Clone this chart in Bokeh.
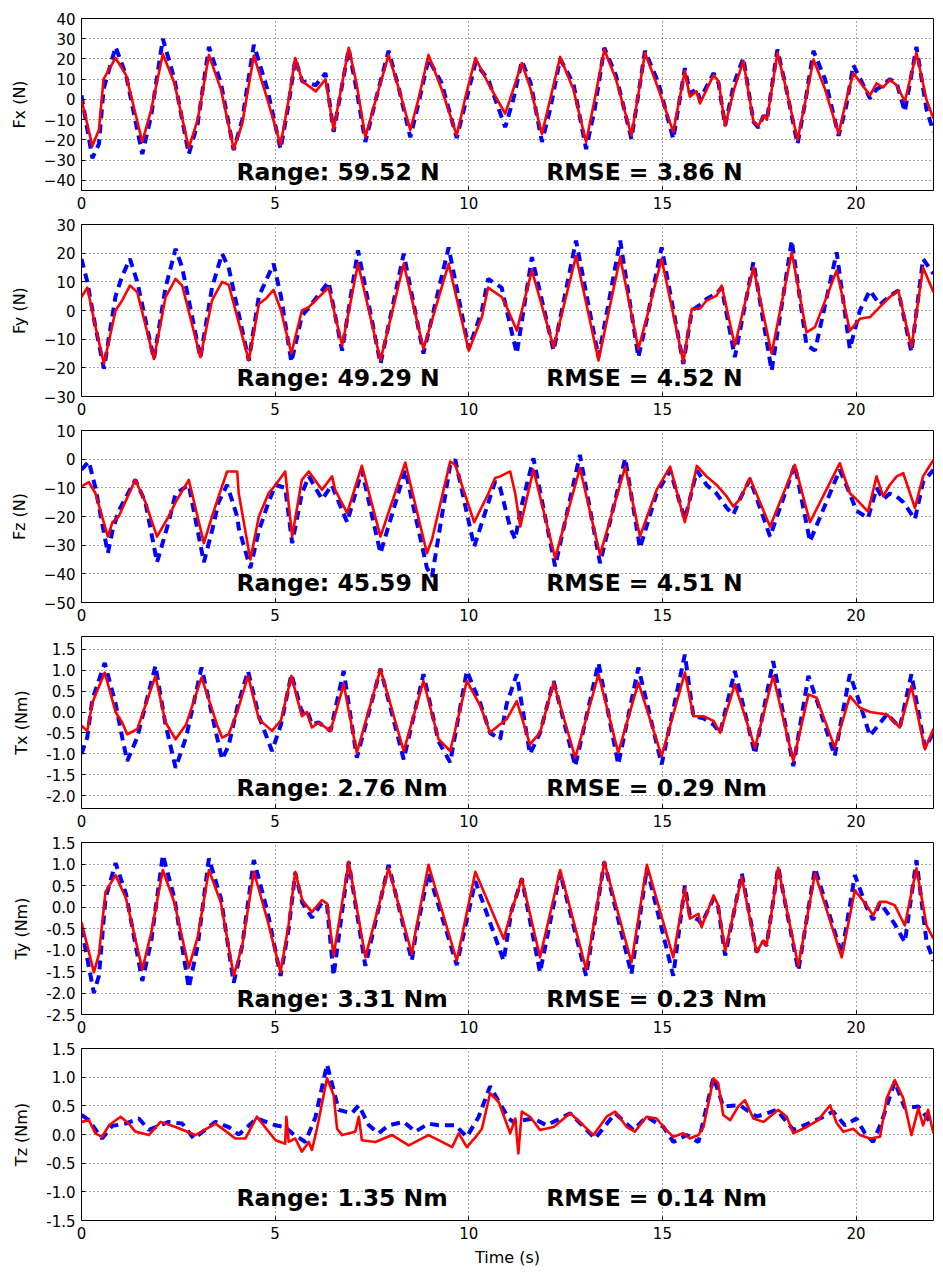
from bokeh.plotting import figure
from bokeh.layouts import column
from bokeh.models import Label, FixedTicker, CustomJSTickFormatter, Range1d
from bokeh.embed import file_html
from bokeh.resources import INLINE

# ---------------- data ----------------
x_ticks = [0, 5, 10, 15, 20]

# rows: (time s, measured, predicted)
fx_rows = [(0.00, 0, 2), (0.28, -23, -29), (0.45, -15, -22), (0.57, 10, 5), (0.88, 20.5, 26), (1.15, 12, 12),
           (1.57, -21, -27), (1.80, -5, -8), (2.10, 22.5, 30), (2.40, 8, 10), (2.77, -24, -27), (3.00, -10, -12),
           (3.29, 22, 26), (3.60, 5, 8), (3.93, -24.5, -25), (4.15, -12, -10), (4.45, 21.7, 27), (4.80, 0, 5),
           (5.14, -22.5, -24.5), (5.35, 0, -2), (5.52, 20.5, 20), (5.70, 9, 9), (6.05, 4, 7), (6.30, 10, 13),
           (6.51, -15, -16), (6.90, 25.5, 25), (7.10, 8, 5), (7.33, -18.7, -21), (7.60, 0, 0), (7.93, 22, 24),
           (8.20, 5, 5), (8.49, -15, -18.7), (8.70, 0, -2), (8.96, 22, 20), (9.30, 5, 8), (9.69, -17.8, -19),
           (9.90, 0, -3), (10.17, 20.5, 18), (10.50, 8, 10), (10.94, -7, -13.7), (11.15, 5, 0), (11.37, 18, 19),
           (11.60, 5, 8), (11.89, -17, -21), (12.10, 0, -5), (12.36, 21, 20), (12.70, 5, 8), (13.03, -21, -24.5),
           (13.25, 0, -5), (13.50, 24.7, 25.5), (13.80, 10, 12), (14.20, -17.8, -19.5), (14.40, 5, 5),
           (14.55, 23, 24), (14.90, 5, 8), (15.28, -16, -19.5), (15.58, 14, 15.5), (15.71, 1.3, 3), (15.88, 4, 5),
           (15.97, -2, 0), (16.32, 12, 13), (16.45, 9, 8), (16.62, -13, -13), (16.85, 5, 8), (17.09, 19, 20.5),
           (17.35, -11, -11), (17.48, -13, -14), (17.61, -8, -8), (17.70, -10, -10), (17.97, 23, 24.7),
           (18.20, 5, 5), (18.49, -20, -22), (18.70, 0, 0), (18.90, 19.7, 24), (19.20, 5, 10), (19.55, -17, -18),
           (19.75, 0, -3), (19.93, 13, 17), (20.36, 2, 0.5), (20.53, 8, 5), (20.70, 6, 7), (20.87, 9.7, 10),
           (21.05, 7, 8), (21.26, -1, -6), (21.56, 23, 26), (21.82, -0.3, -5), (22.00, -9.5, -16)]

fy_rows = [(0.00, 4.7, 18), (0.15, 8, 10), (0.35, -5, -5), (0.58, -18.6, -20.3), (0.88, 0, 5), (1.05, 3.5, 12),
           (1.25, 8.7, 18), (1.44, 6.4, 10), (1.87, -16.9, -17), (2.17, 4.7, 8), (2.43, 11, 21.5), (2.60, 8.7, 15),
           (3.07, -16.3, -16.5), (3.37, 3.5, 8), (3.63, 10, 19.8), (3.80, 9, 15), (4.32, -17.4, -17.5),
           (4.58, 2.3, 5), (4.75, 4, 10), (4.96, 7.2, 16.3), (5.15, 0, 5), (5.42, -15, -18), (5.69, 0, -2),
           (5.87, 1.2, 1), (6.04, 3.5, 4), (6.38, 8, 10), (6.73, -12.2, -14), (7.14, 16.3, 21), (7.72, -17.4, -18.6),
           (8.32, 16.3, 19.8), (8.83, -13.4, -15), (9.48, 16.3, 22), (10.00, -14, -13.4), (10.34, -2.3, 0),
           (10.50, 8, 11), (10.85, 4.7, 8), (10.98, 1.2, 0), (11.24, -7, -15), (11.63, 14, 18.6),
           (12.19, -12.8, -14), (12.77, 19, 24.4), (13.35, -17.4, -16.3), (13.91, 18.6, 24.4), (14.38, -13.4, -16.3),
           (14.60, -2.3, -3), (14.98, 18, 22), (15.54, -18, -18.6), (15.76, 0.6, 0), (15.97, 0.6, 2),
           (16.14, 3.5, 4), (16.40, 5.2, 6), (16.53, 8.7, 8), (16.87, -12.2, -16.3), (17.35, 15, 16.9),
           (17.82, -15, -21), (18.34, 20.3, 24.4), (18.72, -7.6, -12), (18.94, -5.8, -14), (19.50, 14, 20.3),
           (19.84, -7, -13.4), (20.10, -2.9, 0), (20.36, -2.3, 7), (20.61, 1.2, 2), (20.87, 4.7, 5), (21.09, 7, 7),
           (21.43, -12.8, -14.5), (21.73, 15, 18), (22.00, 6.4, 12.8)]

fz_rows = [(0.00, -9.5, -3.7), (0.19, -8, -0.8), (0.36, -11.9, -10), (0.68, -27, -32.8), (0.80, -22, -25),
           (0.96, -20, -18), (1.39, -7.2, -7.2), (1.65, -15, -15), (1.95, -27, -36), (2.25, -20, -22),
           (2.43, -15, -12), (2.77, -7.2, -9), (3.16, -29.3, -36), (3.37, -20, -25), (3.54, -13, -15),
           (3.76, -4.3, -9), (4.02, -4.3, -20), (4.06, -11.9, -24), (4.36, -35, -38), (4.58, -20, -25),
           (4.83, -11.9, -15), (5.01, -9, -9), (5.26, -4.3, -10), (5.44, -27, -29.3), (5.69, -7.2, -12),
           (5.87, -4.3, -6), (6.21, -10.7, -14), (6.47, -6, -9), (6.55, -10.7, -12), (6.86, -18.8, -22),
           (7.24, -2.3, -4), (7.72, -27, -32.8), (8.36, -1.2, -3.7), (8.92, -32.8, -38), (9.05, -28, -41),
           (9.52, -0.8, -2), (9.65, -2, -0.2), (10.14, -22, -30.5), (10.51, -11.9, -15), (10.68, -6.6, -7.8),
           (10.81, -6, -10), (11.07, -4.3, -24), (11.20, -12, -28), (11.33, -23.5, -18), (11.67, -3.7, 0.3),
           (12.23, -34.5, -37.4), (12.87, -3.1, 1.5), (13.39, -33.4, -36.3), (14.04, -2.6, 0.3), (14.42, -27, -31),
           (14.85, -10.7, -12), (15.20, -2.6, -4), (15.58, -22, -21), (15.89, -2.3, -4), (16.14, -6, -9),
           (16.40, -9, -12), (16.66, -13, -17), (16.83, -16.5, -19.4), (17.00, -14, -14), (17.26, -6.6, -7),
           (17.78, -23.5, -27), (18.42, -2, -2), (18.81, -22, -28.7), (19.58, -1.4, -3.7), (19.84, -11.9, -12),
           (20.01, -14, -18), (20.31, -18.3, -20.6), (20.53, -6, -10), (20.70, -13, -14), (20.87, -9, -12),
           (21.05, -6, -13), (21.22, -4.9, -15), (21.52, -17, -21), (21.73, -6, -8), (22.00, -0.2, -3.7)]

tx_rows = [(0.00, -0.33, -1.0), (0.15, -0.45, -0.6), (0.28, 0.22, 0.3), (0.60, 0.94, 1.17), (0.88, 0.0, 0.2),
           (1.05, -0.25, -0.6), (1.18, -0.53, -1.17), (1.44, -0.41, -0.6), (1.91, 0.86, 1.1), (2.17, -0.25, -0.3),
           (2.43, -0.65, -1.33), (2.70, -0.3, -0.6), (3.10, 0.82, 1.06), (3.50, -0.3, -0.6), (3.63, -0.61, -1.13),
           (3.80, -0.53, -0.8), (4.02, 0.0, 0.1), (4.30, 0.86, 0.98), (4.58, -0.17, -0.1), (4.92, -0.45, -0.93),
           (5.15, -0.2, -0.3), (5.42, 0.86, 0.9), (5.69, -0.1, 0.0), (5.82, 0.0, 0.05), (5.95, -0.37, -0.3),
           (6.12, -0.25, -0.25), (6.43, -0.45, -0.45), (6.77, 0.66, 0.98), (7.11, -0.97, -1.09), (7.72, 1.02, 1.03),
           (8.32, -0.93, -1.13), (8.83, 0.74, 0.9), (9.22, -0.65, -0.7), (9.52, -0.93, -1.2), (9.95, 0.74, 0.98),
           (10.30, 0.14, 0.2), (10.55, -0.49, -0.5), (10.81, -0.29, -0.65), (10.98, -0.17, 0.2), (11.24, 0.26, 0.9),
           (11.58, -0.77, -1.0), (11.84, -0.49, -0.5), (12.19, 0.7, 0.74), (12.75, -1.09, -1.29), (13.35, 0.9, 1.17),
           (13.86, -0.97, -1.25), (14.38, 0.7, 1.06), (14.98, -1.05, -1.25), (15.58, 0.94, 1.37), (15.80, -0.1, -0.1),
           (16.06, -0.1, -0.15), (16.32, -0.21, -0.3), (16.49, -0.49, -0.5), (16.87, 0.66, 0.98), (17.39, -0.85, -1.0),
           (17.86, 0.86, 1.21), (18.38, -1.17, -1.29), (18.77, 0.42, 0.86), (18.98, 0.34, 0.3), (19.45, -0.85, -1.05),
           (19.84, 0.38, 0.9), (20.10, 0.1, 0.2), (20.36, 0.0, -0.57), (20.80, -0.06, -0.05), (21.13, -0.37, -0.37),
           (21.43, 0.62, 0.9), (21.78, -0.89, -0.85), (22.00, -0.4, -0.5)]

ty_rows = [(0.00, -0.35, -0.5), (0.32, -1.52, -2.0), (0.45, -1.1, -1.6), (0.62, 0.35, 0.2), (0.88, 0.74, 1.02),
           (1.15, 0.2, 0.3), (1.57, -1.45, -1.72), (1.80, -0.6, -0.8), (2.10, 0.86, 1.21), (2.40, 0.1, 0.2),
           (2.77, -1.41, -1.88), (3.00, -0.7, -0.9), (3.29, 0.86, 1.13), (3.60, 0.1, 0.2), (3.93, -1.6, -1.76),
           (4.15, -0.9, -0.9), (4.45, 0.82, 1.09), (4.80, -0.3, -0.1), (5.14, -1.52, -1.6), (5.35, -0.4, -0.5),
           (5.52, 0.82, 0.8), (5.70, 0.16, 0.1), (5.95, -0.12, -0.25), (6.21, 0.16, 0.1), (6.34, 0.08, 0.05),
           (6.51, -1.13, -1.6), (6.90, 1.05, 1.05), (7.33, -1.17, -1.37), (7.93, 0.91, 0.98), (8.53, -1.09, -1.25),
           (8.62, -0.6, -0.7), (8.96, 0.98, 0.8), (9.69, -1.25, -1.35), (10.17, 0.82, 0.6), (10.90, -0.74, -1.25),
           (11.10, -0.1, -0.1), (11.37, 0.66, 0.66), (11.84, -1.17, -1.52), (12.36, 0.86, 0.8), (13.03, -1.45, -1.6),
           (13.50, 1.05, 1.05), (14.20, -1.29, -1.56), (14.60, 0.98, 0.9), (15.28, -1.17, -1.6), (15.58, 0.43, 0.5),
           (15.71, -0.27, -0.2), (15.93, -0.16, -0.3), (16.01, -0.47, -0.4), (16.32, 0.27, 0.2), (16.44, 0.04, 0.0),
           (16.62, -1.02, -1.13), (17.05, 0.7, 0.78), (17.43, -1.05, -1.05), (17.61, -0.78, -0.8), (17.69, -0.9, -0.9),
           (17.99, 0.91, 0.93), (18.51, -1.37, -1.48), (18.94, 0.78, 0.9), (19.63, -1.17, -1.1), (19.97, 0.39, 0.74),
           (20.27, 0.04, 0.0), (20.44, -0.2, -0.3), (20.61, 0.12, 0.1), (20.78, 0.12, -0.1), (21.00, 0.04, -0.4),
           (21.26, -0.43, -0.82), (21.56, 0.9, 1.09), (21.82, -0.43, -0.8), (22.00, -0.74, -1.25)]

tz_meas_rows = [(0.00, 0.22), (0.19, 0.25), (0.36, 0.02), (0.53, -0.04), (0.71, 0.16), (1.01, 0.31), (1.22, 0.19),
                (1.39, 0.05), (1.74, -0.01), (2.04, 0.22), (2.43, 0.13), (2.94, -0.01), (3.46, 0.19), (3.80, 0.02),
                (3.97, -0.07), (4.23, -0.07), (4.53, 0.31), (4.83, 0.05), (5.01, -0.1), (5.26, -0.16), (5.29, 0.31),
                (5.35, -0.13), (5.52, -0.07), (5.69, -0.3), (5.87, -0.13), (5.95, -0.27), (6.08, 0.1), (6.34, 0.98),
                (6.51, 0.69), (6.60, 0.1), (6.73, -0.01), (7.07, 0.05), (7.16, 0.31), (7.24, -0.1), (7.59, -0.13),
                (8.02, -0.01), (8.45, -0.19), (8.96, -0.01), (9.31, -0.13), (9.57, -0.22), (9.74, 0.02), (9.95, -0.22),
                (10.17, -0.05), (10.34, 0.1), (10.55, 0.72), (10.77, 0.57), (11.07, 0.02), (11.20, 0.28),
                (11.28, -0.33), (11.37, 0.4), (11.58, 0.31), (11.84, 0.08), (12.19, 0.13), (12.62, 0.37), (12.96, 0.16),
                (13.22, -0.01), (13.56, 0.31), (13.78, 0.4), (14.08, 0.13), (14.29, 0.05), (14.59, 0.31), (14.85, 0.28),
                (15.03, 0.13), (15.28, -0.04), (15.54, 0.02), (15.71, -0.07), (15.93, -0.01), (16.06, 0.13),
                (16.32, 0.98), (16.44, 0.9), (16.57, 0.34), (16.75, 0.25), (16.96, 0.49), (17.13, 0.6), (17.35, 0.28),
                (17.61, 0.22), (17.99, 0.43), (18.21, 0.31), (18.38, 0.02), (18.72, 0.13), (19.02, 0.25), (19.33, 0.51),
                (19.50, 0.2), (19.67, 0.05), (19.93, 0.1), (20.10, -0.01), (20.36, -0.07), (20.62, -0.04), (20.79, 0.63),
                (21.00, 0.95), (21.22, 0.63), (21.43, -0.01), (21.61, 0.46), (21.73, 0.16), (21.86, 0.43), (22.00, 0.02)]

tz_pred_rows = [(0.00, 0.34), (0.19, 0.25), (0.53, -0.07), (0.79, 0.15), (1.14, 0.19), (1.48, 0.28), (1.74, 0.08),
                (2.25, 0.22), (2.60, 0.19), (2.90, -0.07), (3.46, 0.22), (3.80, 0.13), (4.06, 0.0), (4.53, 0.28),
                (5.01, 0.16), (5.26, 0.13), (5.44, 0.02), (5.78, -0.13), (6.04, 0.3), (6.34, 1.22), (6.64, 0.43),
                (6.98, 0.37), (7.16, 0.51), (7.42, 0.16), (7.67, 0.02), (7.93, 0.16), (8.32, 0.22), (8.62, 0.05),
                (8.96, 0.19), (9.22, 0.16), (9.65, 0.16), (9.95, -0.04), (10.25, 0.3), (10.55, 0.84), (11.03, 0.28),
                (11.15, 0.22), (11.67, 0.28), (12.01, 0.16), (12.62, 0.37), (13.26, -0.07), (13.78, 0.37), (14.25, 0.08),
                (14.59, 0.31), (15.03, 0.13), (15.28, -0.13), (15.63, -0.01), (15.93, -0.13), (16.32, 1.0),
                (16.57, 0.49), (17.00, 0.51), (17.43, 0.31), (17.95, 0.43), (18.38, 0.08), (19.07, 0.28), (19.41, 0.4),
                (19.71, 0.16), (20.01, 0.28), (20.23, 0.02), (20.44, -0.13), (20.66, 0.22), (21.00, 0.92),
                (21.26, 0.46), (21.61, 0.49), (21.95, 0.19)]

fx_t = [r[0] for r in fx_rows]; fx_meas = [r[1] for r in fx_rows]; fx_pred = [r[2] for r in fx_rows]
fy_t = [r[0] for r in fy_rows]; fy_meas = [r[1] for r in fy_rows]; fy_pred = [r[2] for r in fy_rows]
fz_t = [r[0] for r in fz_rows]; fz_meas = [r[1] for r in fz_rows]; fz_pred = [r[2] for r in fz_rows]
tx_t = [r[0] for r in tx_rows]; tx_meas = [r[1] for r in tx_rows]; tx_pred = [r[2] for r in tx_rows]
ty_t = [r[0] for r in ty_rows]; ty_meas = [r[1] for r in ty_rows]; ty_pred = [r[2] for r in ty_rows]
tz_t_meas = [r[0] for r in tz_meas_rows]; tz_meas = [r[1] for r in tz_meas_rows]
tz_t_pred = [r[0] for r in tz_pred_rows]; tz_pred = [r[1] for r in tz_pred_rows]

y_labels = ["Fx (N)", "Fy (N)", "Fz (N)", "Tx (Nm)", "Ty (Nm)", "Tz (Nm)"]
range_texts = ["Range: 59.52 N", "Range: 49.29 N", "Range: 45.59 N",
               "Range: 2.76 Nm", "Range: 3.31 Nm", "Range: 1.35 Nm"]
rmse_texts = ["RMSE = 3.86 N", "RMSE = 4.52 N", "RMSE = 4.51 N",
              "RMSE = 0.29 Nm", "RMSE = 0.23 Nm", "RMSE = 0.14 Nm"]
y_limits = [(-45, 40), (-30, 30), (-50, 10), (-2.3, 1.8), (-2.5, 1.5), (-1.5, 1.5)]
y_ticks = [[-40, -30, -20, -10, 0, 10, 20, 30, 40],
           [-30, -20, -10, 0, 10, 20, 30],
           [-50, -40, -30, -20, -10, 0, 10],
           [-2.0, -1.5, -1.0, -0.5, 0.0, 0.5, 1.0, 1.5],
           [-2.5, -2.0, -1.5, -1.0, -0.5, 0.0, 0.5, 1.0, 1.5],
           [-1.5, -1.0, -0.5, 0.0, 0.5, 1.0, 1.5]]
text_y = [-36.1, -23.4, -43.3, -1.82, -2.13, -1.11]   # vertical centre of the annotations

series = [
    (fx_t, fx_meas, fx_t, fx_pred),
    (fy_t, fy_meas, fy_t, fy_pred),
    (fz_t, fz_meas, fz_t, fz_pred),
    (tx_t, tx_meas, tx_t, tx_pred),
    (ty_t, ty_meas, ty_t, ty_pred),
    (tz_t_meas, tz_meas, tz_t_pred, tz_pred),
]

FONT = "DejaVu Sans"
figs = []
for i in range(6):
    first = (i == 0)
    last = (i == 5)
    tm, ym, tp, yp = series[i]
    p = figure(frame_width=852, frame_height=172,
               min_border_left=81, min_border_right=8,
               min_border_top=(18 if first else 10),
               min_border_bottom=(48 if last else 24),
               x_range=Range1d(0, 22), y_range=Range1d(*y_limits[i]),
               output_backend="svg", toolbar_location=None, tools="")
    p.background_fill_color = "white"
    p.border_fill_color = "white"
    p.outline_line_color = "black"
    p.outline_line_alpha = 1.0
    p.outline_line_width = 1

    p.line(tp, yp, line_color="#0000ff", line_width=4, line_dash="9 6")
    p.line(tm, ym, line_color="#ff0000", line_width=2.6, line_join="round")

    p.xaxis.ticker = FixedTicker(ticks=x_ticks)
    p.yaxis.ticker = FixedTicker(ticks=y_ticks[i])
    if i >= 3:
        p.yaxis.formatter = CustomJSTickFormatter(code="return tick.toFixed(1);")
    for ax in (p.xaxis[0], p.yaxis[0]):
        ax.axis_line_color = None
        ax.major_tick_in = 4
        ax.major_tick_out = 0
        ax.major_tick_line_color = "black"
        ax.minor_tick_line_color = None
        ax.major_label_text_font = FONT
        ax.major_label_text_font_size = "15px"
        ax.major_label_text_color = "black"
        ax.major_label_standoff = 6
        ax.axis_label_text_font = FONT
        ax.axis_label_text_font_size = "16px"
        ax.axis_label_text_font_style = "normal"
        ax.axis_label_text_color = "black"
    p.yaxis.axis_label = y_labels[i]
    p.yaxis.axis_label_standoff = 12
    if last:
        p.xaxis.axis_label = "Time (s)"
        p.xaxis.axis_label_standoff = 6

    for g in (p.xgrid[0], p.ygrid[0]):
        g.grid_line_color = "black"
        g.grid_line_alpha = 0.7
        g.grid_line_dash = "1 3"
        g.grid_line_width = 1

    p.add_layout(Label(x=4, y=text_y[i], text=range_texts[i], text_font=FONT,
                       text_font_size="23.5px", text_font_style="bold", text_color="black",
                       text_baseline="middle"))
    p.add_layout(Label(x=12, y=text_y[i], text=rmse_texts[i], text_font=FONT,
                       text_font_size="23.5px", text_font_style="bold", text_color="black",
                       text_baseline="middle"))
    figs.append(p)

layout = column(*figs, spacing=0)
open("out.html", "w").write(file_html(layout, INLINE))
